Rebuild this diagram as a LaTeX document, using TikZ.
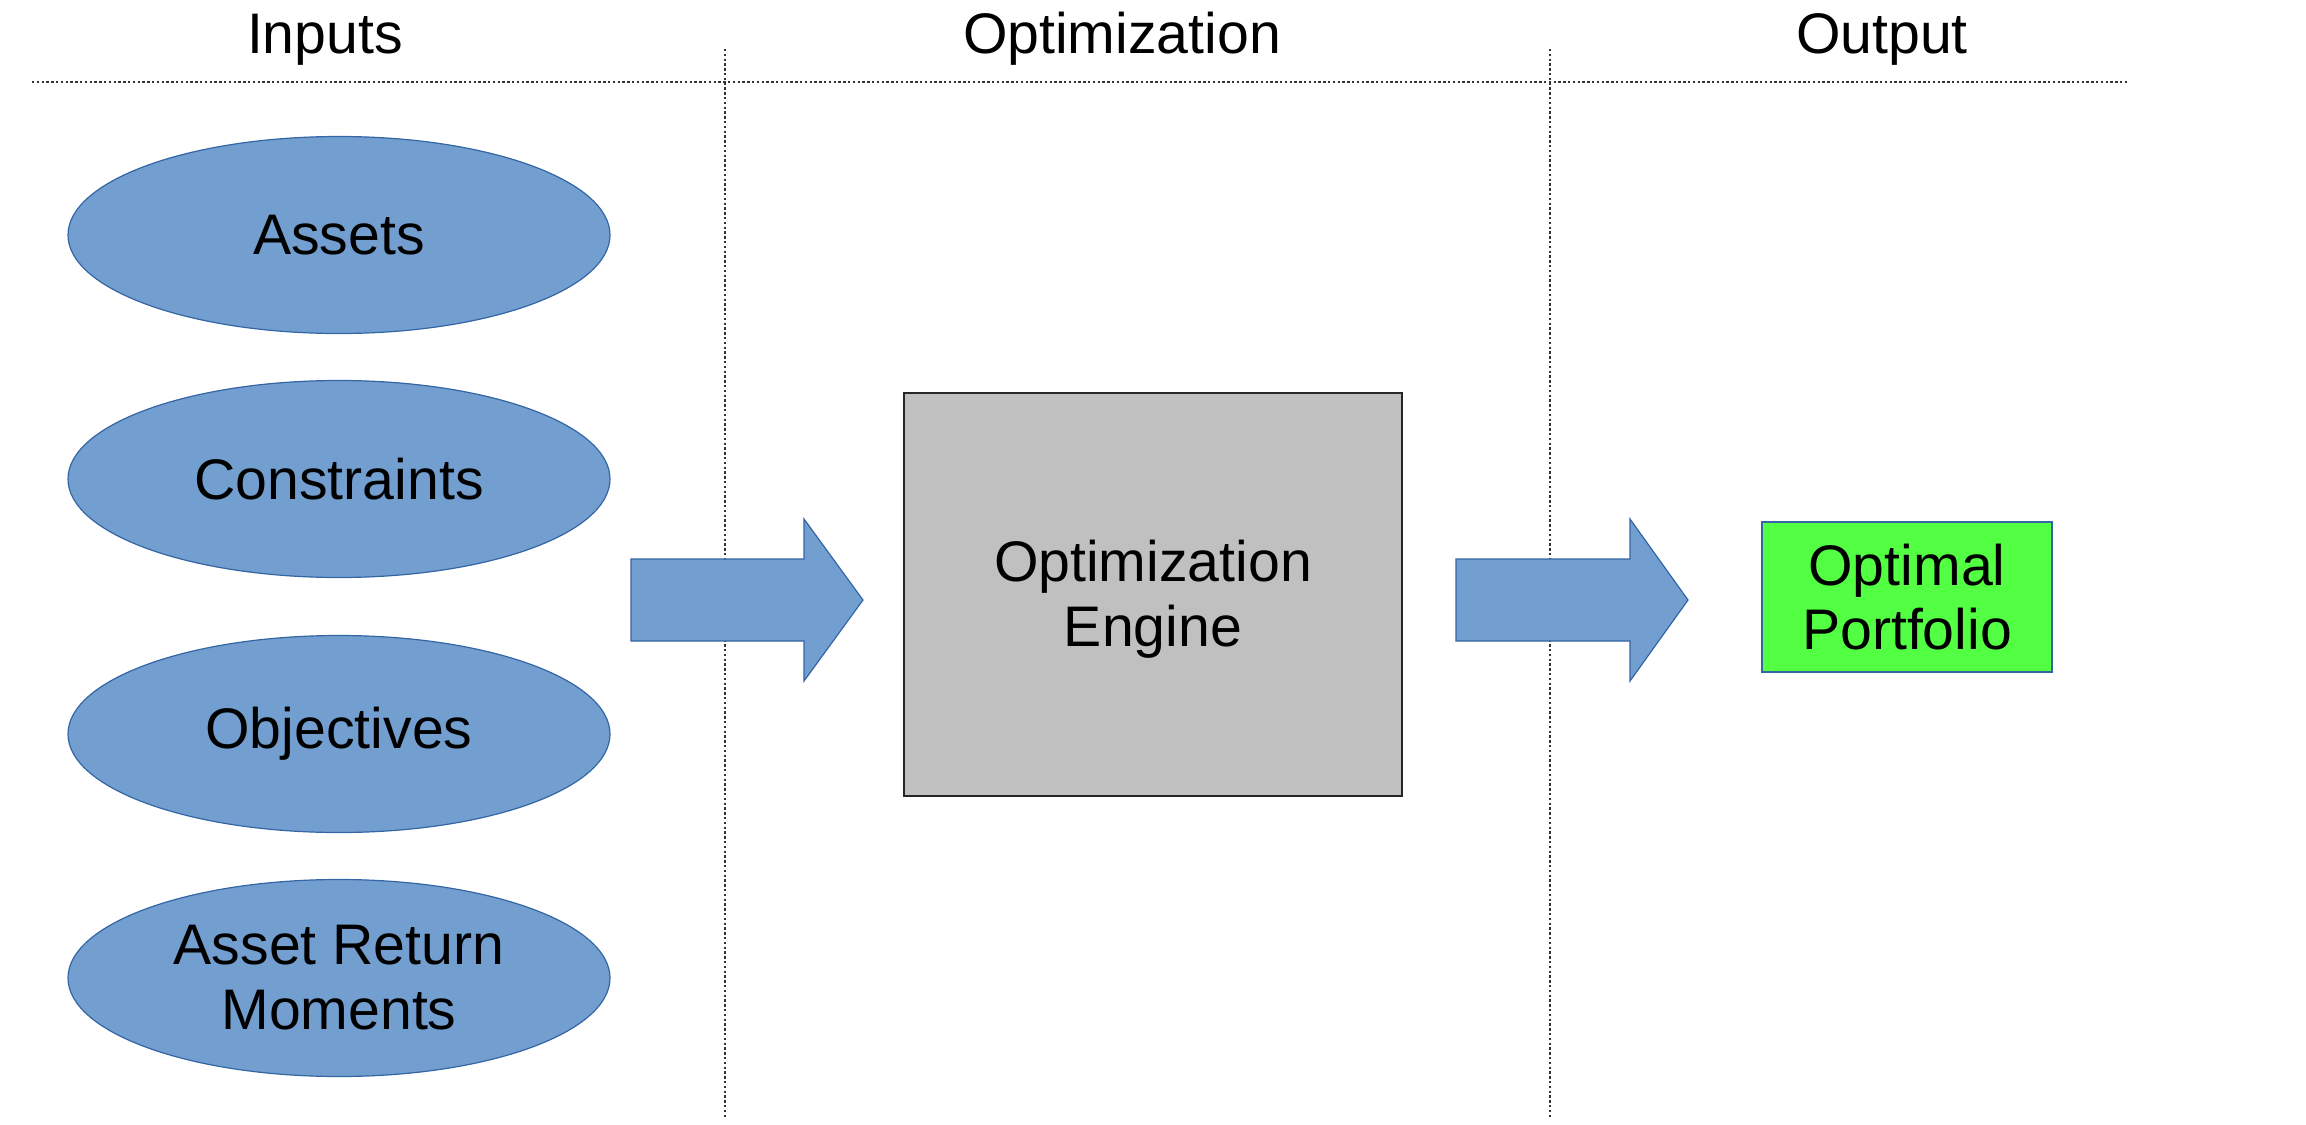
\documentclass[tikz,border=0pt]{standalone}
\usepackage{fontspec}
\setmainfont{Liberation Sans}
\usetikzlibrary{shapes.geometric}
\definecolor{blueFill}{HTML}{729FCF}
\definecolor{blueLine}{HTML}{3465A4}
\definecolor{greyFill}{HTML}{C0C0C0}
\definecolor{greenFill}{HTML}{52FF42}
\tikzset{
  txt/.style={font=\fontsize{28.6}{32}\selectfont, align=center},
  inputell/.style={ellipse, draw=blueLine, fill=blueFill, line width=0.6pt,
    minimum width=271pt, minimum height=98.5pt, inner sep=0pt, txt},
  blockarrow/.style={draw=blueLine, fill=blueFill, line width=0.6pt},
  sep/.style={line width=0.7pt, dash pattern=on 1.2pt off 1.2pt, black!80},
  engine/.style={rectangle, draw=black!85, fill=greyFill, line width=0.8pt,
    minimum width=249pt, minimum height=201.5pt, inner sep=0pt, txt},
  result/.style={rectangle, draw=blueLine, fill=greenFill, line width=0.6pt,
    minimum width=145pt, minimum height=75pt, inner sep=0pt, txt},
  header/.style={txt, anchor=base}
}
\begin{document}
\begin{tikzpicture}[x=0.5pt,y=-0.5pt]
\useasboundingbox (0,0) rectangle (2306,1124);
% headers
\node[header] (hin) at (325,54) {Inputs};
\node[header] (hopt) at (1122,54) {Optimization};
\node[header] (hout) at (1882,54) {Output};
% separators
\coordinate (hl) at (32,82);
\coordinate (hr) at (2128,82);
\coordinate (v1t) at (725,49);
\coordinate (v1b) at (725,1118);
\coordinate (v2t) at (1550,49);
\coordinate (v2b) at (1550,1118);
\draw[sep] (hl) -- (hr);
\draw[sep] (v1t) -- (v1b);
\draw[sep] (v2t) -- (v2b);
% inputs
\node[inputell] (assets) at (339,235) {Assets};
\node[inputell] (constraints) at (339,479) {Constraints};
\node[inputell] (objectives) at (339,734) {Objectives};
\node[inputell, font=\fontsize{28.6}{32.5}\selectfont] (moments) at (339,978) {Asset Return\\Moments};
% engine
\node[engine, font=\fontsize{28.6}{32.5}\selectfont] (engine) at (1153,594.5) {\rule{0pt}{25pt}Optimization\\Engine};
% output
\node[result, font=\fontsize{28.6}{32}\selectfont] (portfolio) at (1907,597) {Optimal\\Portfolio};
% block arrows
\draw[blockarrow] (631,559) -- (804,559) -- (804,519) -- (863,600) -- (804,681) -- (804,641) -- (631,641) -- cycle;
\draw[blockarrow] (1456,559) -- (1630,559) -- (1630,519) -- (1688,600) -- (1630,681) -- (1630,641) -- (1456,641) -- cycle;
\end{tikzpicture}
\end{document}
